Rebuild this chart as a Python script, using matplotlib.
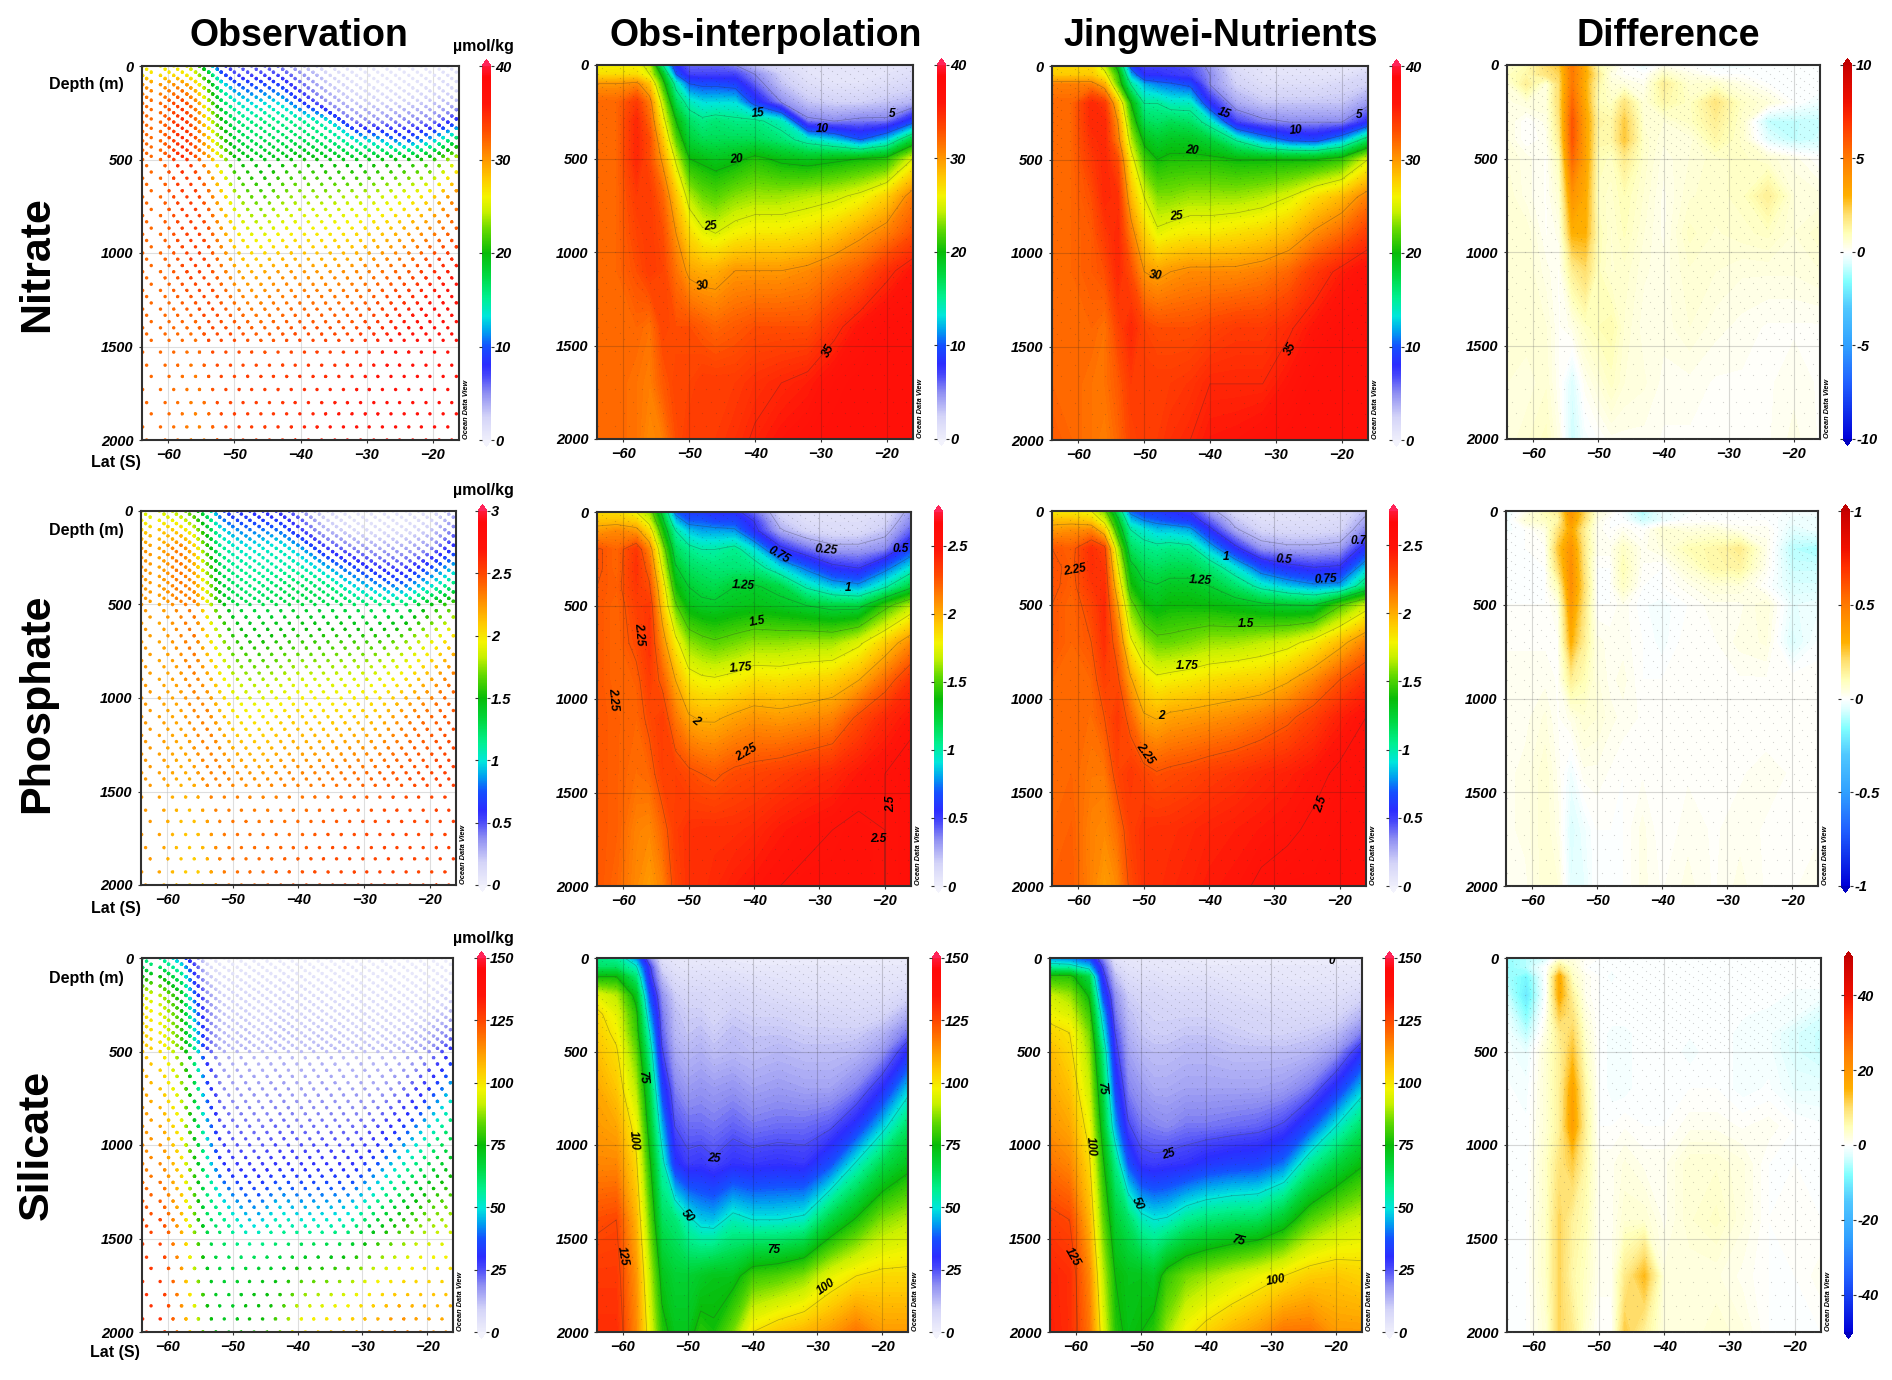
"""
Nutrient sections along a meridional transect: observed dots, interpolated
observations, Jingwei-Nutrients and their difference, as Ocean Data View draws them.
"""

import matplotlib
matplotlib.use("Agg")
import numpy as np
import matplotlib.pyplot as plt
from matplotlib.colorbar import ColorbarBase
from matplotlib.colors import LinearSegmentedColormap, Normalize
from matplotlib.path import Path
from matplotlib.transforms import Affine2D

plt.rcParams["font.family"] = ["Liberation Sans", "DejaVu Sans"]

W, H = 1892, 1380

COLUMN_TITLES = ["Observation", "Obs-interpolation", "Jingwei-Nutrients", "Difference"]
ROW_TITLES = ["Nitrate", "Phosphate", "Silicate"]

# grid the section values were read on
LATS = [-64, -61, -58, -56, -54, -52, -50, -48, -46, -43, -40, -36, -32, -28, -24, -20, -16]
DEPTHS = [0, 50, 100, 200, 300, 400, 500, 700, 900, 1100, 1400, 1700, 2000]

NITRATE_INTERP = [
    [26, 26, 26, 24, 15, 8, 6, 6, 6, 5, 3, 1.5, 1, 1, 1, 1, 1],
    [27, 27, 27, 25, 19, 10, 7, 7, 7, 7, 5, 2.5, 1, 1, 1, 1, 1.5],
    [30, 30, 30.5, 28, 21, 14, 10, 9.5, 9.5, 9, 6, 3, 1.5, 1, 1, 1.5, 2],
    [32, 32, 34, 31, 24, 17, 14, 13, 13, 13, 9, 5, 3, 2.5, 2.5, 3, 3.5],
    [32, 32, 35, 32, 26, 20, 16.5, 15.5, 16, 15.5, 15.5, 14, 5.5, 5, 5.5, 5.5, 9],
    [32, 32, 35, 33, 28, 22, 18, 17, 17, 17, 17, 16, 14, 12.5, 10, 12.5, 18],
    [32, 32, 35, 33, 29.5, 24.5, 20, 19.5, 19, 19.5, 20.5, 19.5, 19, 19.5, 20, 20.5, 25],
    [32, 32, 34, 34, 32, 28, 24, 22.5, 22, 23, 23.5, 23.5, 24, 24.5, 25.5, 27.5, 31],
    [32, 32, 33.5, 34, 33, 30, 27, 25.5, 25, 26, 26.5, 26.5, 27, 28, 29.5, 31, 33],
    [32, 32, 33, 34, 33.5, 31.5, 29.5, 29, 29, 30, 30, 30, 30.5, 31.5, 32.5, 34.5, 36],
    [32, 32, 32, 31.5, 33.5, 33, 33, 32.5, 32, 32.5, 33, 33, 33, 34.5, 36, 37, 37],
    [32, 32, 31.5, 31, 32.5, 33.5, 33.5, 34, 34, 34, 34.5, 35, 35.5, 36.5, 37, 37, 37],
    [32, 32, 31.5, 30.5, 31, 33, 34, 34, 34, 34.5, 35.2, 36, 36.5, 37, 37, 37, 37],
]
NITRATE_JINGWEI = [
    [27, 27, 27, 24, 19, 9, 7, 7, 7, 6.5, 4.5, 1.5, 1, 1, 1, 1, 1],
    [28, 28, 28, 26, 21, 12, 8, 8, 7.5, 7, 5, 2, 1, 1, 1, 1, 2],
    [31, 31, 31, 29, 22, 15, 12, 11, 10.5, 9.5, 5, 2.5, 1.5, 1.5, 1.5, 2, 2.5],
    [32, 32, 35, 34, 28, 20, 15, 15, 14, 14, 8, 4, 3, 3, 3, 3, 4.5],
    [32, 32, 35, 35, 30, 22, 17, 16.5, 17, 16.5, 14, 7, 5.5, 5, 5, 5, 8],
    [32, 32, 34.5, 35, 31, 24, 19.5, 18.5, 19, 19, 18, 15, 12, 10, 9.5, 12, 17],
    [32, 32, 34, 35, 33, 26, 21.5, 20, 20.5, 20.5, 20.5, 20, 20, 20, 20, 21, 25],
    [32, 32, 33, 35, 34.5, 28.5, 25, 23, 23, 23.5, 23.5, 23.5, 24, 25, 27, 28.5, 31],
    [32, 32, 32.5, 34, 35, 31, 27.5, 25.5, 26, 26.5, 26.5, 27, 27.5, 28.5, 30.5, 32, 34],
    [32, 32, 32.5, 33, 35, 33, 30, 29.5, 30, 30.5, 30.5, 30.5, 31, 32, 34, 35.5, 36.5],
    [32, 32, 32, 31.5, 33.5, 35, 33.5, 33, 33, 33, 33.5, 34, 34, 34.8, 36, 37, 37],
    [32, 32, 31.5, 31.5, 32.5, 34, 34, 34, 34, 34.3, 35, 35, 35, 36, 37, 37, 37],
    [32.5, 32, 31.5, 31, 32, 33.5, 34, 34, 34.5, 35, 35.8, 36, 36.5, 37, 37, 37, 37],
]
NITRATE_DIFF = [
    [0.6, 1, 2, 2.5, 5, 3, 1, 0.6, 0, -0.4, 0.2, 0, -0.2, -0.2, -0.1, 0, 0],
    [0.8, 1.2, 1.8, 2.2, 5, 3.2, 1.5, 0.3, 0.1, 0, 0.8, 0.3, 0, 0, 0, 0, 0],
    [0.5, 1.5, 0.5, 2, 5, 3, 1.2, 0.5, 0.4, 0.2, 1.5, 0.6, 0.7, 0.3, 0, 0, 0],
    [0.3, 0.5, 0.5, 2, 5.5, 3.2, 1, 0.8, 1.8, 0.5, 1.2, 0.8, 1.8, 0.8, 0.5, 0, -0.3],
    [0.4, 0, 0.3, 1.8, 6, 3.5, 1.3, 1.2, 2.4, 0.6, 0.5, 0.8, 1.5, 0.7, -0.9, -0.9, -0.8],
    [0.4, 0, 0.2, 1.5, 6, 3.5, 1.2, 1.2, 2.5, 0.7, 0.4, 0.4, 1.2, 0.7, -0.5, -0.9, -0.7],
    [0.5, 0.3, 0.1, 1, 5.5, 3.5, 1, 0.8, 1.6, 0.7, 0.3, 0.5, 0.7, 0.8, 0.6, 0.3, 0],
    [0.6, 0.3, 0.1, 0.6, 4, 3.2, 0.8, 0.7, 1, 0.6, 0.2, 0.6, 0.7, 0.8, 1.5, 0.5, 0.4],
    [0.6, 0.6, 0.1, 0.3, 3, 3, 1, 0.6, 0.9, 0.5, 0.2, 0.8, 0.6, 0.7, 0.8, 0.5, 0.7],
    [0.6, 0.6, 0.3, 0.1, 1.5, 2, 0.9, 0.6, 0.7, 0.4, 0.3, 0.6, 0.5, 0.4, 0.4, 0.4, 0.5],
    [0.6, 0.6, 0.5, 0.1, 0.3, 0.8, 1, 1.1, 0.6, 0.3, 0.3, 0.5, 0.3, 0.2, 0.1, 0.1, 0.1],
    [0.5, 0.4, 0.6, 0.1, -0.6, 0.2, 0.5, 0.8, 0.5, 0.4, 0.2, 0.2, 0.1, 0.1, 0.1, 0.2, 0.1],
    [0.4, 0.6, 0.8, 0.3, -0.8, -0.2, 0, 0.2, 0.2, 0.2, 0.1, 0.1, 0.1, 0.1, 0.1, 0.3, 0.1],
]

PHOSPHATE_INTERP = [
    [1.85, 1.85, 1.75, 1.6, 1.2, 0.7, 0.6, 0.6, 0.55, 0.55, 0.4, 0.15, 0.08, 0.08, 0.08, 0.1, 0.3],
    [1.95, 1.95, 1.9, 1.7, 1.3, 0.85, 0.7, 0.7, 0.65, 0.65, 0.5, 0.2, 0.1, 0.1, 0.1, 0.15, 0.35],
    [2.05, 2.1, 2.05, 1.85, 1.4, 1.0, 0.85, 0.8, 0.8, 0.78, 0.55, 0.27, 0.15, 0.12, 0.12, 0.2, 0.42],
    [2.27, 2.2, 2.35, 2.1, 1.6, 1.15, 1.05, 1.0, 1.0, 1.05, 0.9, 0.55, 0.4, 0.3, 0.3, 0.35, 0.65],
    [2.27, 2.2, 2.37, 2.2, 1.72, 1.27, 1.15, 1.12, 1.1, 1.1, 1.08, 0.9, 0.72, 0.55, 0.5, 0.7, 0.92],
    [2.25, 2.22, 2.35, 2.27, 1.85, 1.38, 1.25, 1.2, 1.18, 1.25, 1.27, 1.2, 0.98, 0.85, 0.8, 0.98, 1.22],
    [2.25, 2.2, 2.32, 2.35, 1.92, 1.52, 1.33, 1.29, 1.28, 1.31, 1.33, 1.3, 1.25, 1.2, 1.2, 1.45, 1.65],
    [2.25, 2.2, 2.28, 2.37, 2.08, 1.8, 1.6, 1.55, 1.52, 1.56, 1.6, 1.6, 1.62, 1.62, 1.72, 1.9, 2.1],
    [2.25, 2.2, 2.22, 2.33, 2.22, 2.0, 1.82, 1.78, 1.77, 1.8, 1.85, 1.84, 1.87, 1.9, 2, 2.18, 2.37],
    [2.25, 2.22, 2.2, 2.28, 2.33, 2.15, 2.02, 1.98, 1.98, 2.03, 2.07, 2.05, 2.08, 2.12, 2.28, 2.4, 2.47],
    [2.25, 2.22, 2.18, 2.2, 2.32, 2.32, 2.28, 2.25, 2.23, 2.28, 2.3, 2.33, 2.37, 2.4, 2.46, 2.5, 2.55],
    [2.25, 2.22, 2.12, 2.1, 2.2, 2.33, 2.37, 2.38, 2.38, 2.38, 2.4, 2.45, 2.48, 2.5, 2.52, 2.5, 2.55],
    [2.25, 2.2, 2.1, 2.05, 2.12, 2.3, 2.37, 2.38, 2.4, 2.44, 2.47, 2.5, 2.52, 2.52, 2.52, 2.5, 2.55],
]
PHOSPHATE_JINGWEI = [
    [1.8, 1.8, 1.75, 1.55, 1.15, 0.7, 0.6, 0.6, 0.55, 0.5, 0.3, 0.12, 0.08, 0.08, 0.08, 0.1, 0.22],
    [1.95, 1.95, 1.9, 1.7, 1.3, 0.85, 0.75, 0.7, 0.65, 0.6, 0.42, 0.2, 0.1, 0.1, 0.1, 0.12, 0.28],
    [2.05, 2.08, 2.1, 1.9, 1.4, 1.0, 0.92, 0.85, 0.85, 0.8, 0.55, 0.27, 0.15, 0.13, 0.13, 0.15, 0.35],
    [2.25, 2.22, 2.38, 2.3, 1.65, 1.15, 1.07, 1.05, 1.07, 1.05, 0.85, 0.55, 0.32, 0.28, 0.28, 0.3, 0.58],
    [2.27, 2.23, 2.38, 2.35, 1.78, 1.3, 1.18, 1.15, 1.18, 1.18, 1.1, 0.9, 0.65, 0.55, 0.5, 0.52, 0.85],
    [2.27, 2.22, 2.35, 2.38, 1.9, 1.4, 1.28, 1.26, 1.3, 1.3, 1.25, 1.12, 0.95, 0.85, 0.78, 0.8, 1.12],
    [2.25, 2.2, 2.3, 2.4, 2.02, 1.55, 1.38, 1.33, 1.37, 1.37, 1.36, 1.33, 1.28, 1.25, 1.24, 1.48, 1.68],
    [2.25, 2.2, 2.25, 2.38, 2.18, 1.78, 1.62, 1.54, 1.54, 1.57, 1.61, 1.62, 1.66, 1.7, 1.8, 1.95, 2.12],
    [2.2, 2.2, 2.2, 2.32, 2.28, 2.02, 1.85, 1.78, 1.8, 1.82, 1.85, 1.88, 1.9, 1.98, 2.1, 2.25, 2.37],
    [2.2, 2.2, 2.18, 2.25, 2.35, 2.2, 2.02, 1.99, 2.03, 2.05, 2.07, 2.1, 2.15, 2.22, 2.32, 2.43, 2.5],
    [2.2, 2.2, 2.15, 2.15, 2.3, 2.35, 2.3, 2.26, 2.28, 2.3, 2.33, 2.36, 2.4, 2.43, 2.47, 2.52, 2.55],
    [2.2, 2.22, 2.12, 2.1, 2.18, 2.32, 2.37, 2.38, 2.38, 2.4, 2.42, 2.44, 2.46, 2.48, 2.52, 2.55, 2.55],
    [2.22, 2.23, 2.12, 2.05, 2.1, 2.28, 2.37, 2.38, 2.4, 2.42, 2.45, 2.47, 2.52, 2.55, 2.55, 2.55, 2.55],
]
PHOSPHATE_DIFF = [
    [-0.04, 0.02, 0.1, 0.15, 0.4, 0.22, 0.05, 0.02, -0.02, -0.12, -0.03, -0.02, 0, 0, 0, -0.02, -0.02],
    [-0.03, 0.05, 0.08, 0.12, 0.38, 0.2, 0.03, 0, -0.01, -0.08, -0.04, 0, 0, 0, 0, -0.03, -0.03],
    [-0.02, 0, 0.03, 0.18, 0.33, 0.15, 0.02, 0, 0.02, 0, 0.06, 0.04, 0.05, 0.02, 0.02, -0.05, -0.03],
    [0, 0, 0.01, 0.25, 0.4, 0.17, 0.02, 0.02, 0.08, 0.02, 0.04, 0.1, 0.12, 0.16, 0.03, -0.1, -0.12],
    [0, 0, 0, 0.2, 0.42, 0.18, 0, 0, 0.1, 0.01, 0, 0.06, 0.12, 0.13, 0.02, -0.08, -0.08],
    [0, 0, 0, 0.1, 0.42, 0.2, 0, 0, 0.08, 0, 0, 0.02, 0.05, 0.05, 0, -0.06, -0.06],
    [0, 0, 0, 0.03, 0.38, 0.18, 0, 0, 0.02, -0.01, -0.02, 0, 0.02, 0.02, 0.05, -0.04, -0.03],
    [0.01, 0.01, 0.01, 0.01, 0.3, 0.15, 0.03, 0.02, 0.02, 0, -0.02, 0.01, 0.01, 0.03, 0.04, -0.06, -0.01],
    [0.02, 0.02, 0.02, 0.01, 0.15, 0.1, 0.04, 0.02, 0.03, 0, 0, 0.01, 0.01, 0.01, 0.01, 0.01, 0.01],
    [0.02, 0.02, 0.04, 0.01, 0.03, 0.06, 0.05, 0.03, 0.02, 0.01, 0.01, 0.01, 0.01, 0.01, 0, 0.01, 0.01],
    [0.02, 0.03, 0.06, 0.02, -0.03, 0.02, 0.02, 0.01, 0, 0.01, 0, 0.01, 0.01, 0.01, 0.02, 0.01, 0.01],
    [0.02, 0.03, 0.06, 0.03, -0.06, -0.03, 0, 0, 0, 0.03, 0, 0.02, 0.01, 0.02, 0.01, 0.01, 0.01],
    [0.01, 0.02, 0.06, 0.05, -0.05, -0.04, 0, 0, 0, 0.03, 0.01, 0.03, 0.01, 0.03, 0.01, 0.01, 0.02],
]

SILICATE_INTERP = [
    [58, 56, 42, 20, 5, 2.5, 2, 2, 2, 1.5, 1.5, 1.5, 1.5, 1.5, 1.5, 1.5, 1.5],
    [62, 62, 52, 28, 8, 4, 3, 3, 3, 2.5, 2, 2, 2, 2, 2, 2, 2],
    [75, 75, 60, 30, 12, 6, 5, 5, 5, 5, 4, 3.5, 3, 3, 2.5, 3, 3],
    [95, 90, 72, 38, 18, 10, 8, 8, 7, 8, 7, 6, 5, 5, 5, 5, 8],
    [102, 95, 78, 45, 21, 12, 10, 10, 8, 10, 9, 9, 8, 7.5, 7, 8, 14],
    [104, 98, 80, 52, 23, 13, 11, 12, 10, 12, 11, 11, 10, 10, 10, 13, 21],
    [106, 101, 84, 58, 26, 15, 13, 14, 12, 13, 12, 13, 12, 12, 13, 17, 30],
    [110, 105, 90, 67, 35, 20, 17, 18, 17, 18, 16, 17, 16, 16, 20, 30, 47],
    [112, 110, 97, 72, 45, 25, 22, 22, 21, 23, 21, 22, 22, 24, 32, 47, 62],
    [115, 115, 102, 78, 54, 32, 27, 28, 26, 29, 28, 29, 28, 36, 51, 64, 72],
    [124, 125, 108, 85, 63, 60, 52, 47, 46, 53, 50, 50, 52, 66, 76, 86, 90],
    [128, 128, 113, 92, 72, 68, 68, 70, 72, 72, 80, 82, 86, 95, 100, 102, 102],
    [130, 130, 115, 97, 78, 72, 72, 78, 76, 85, 100, 105, 108, 112, 118, 112, 112],
]
SILICATE_JINGWEI = [
    [42, 40, 35, 20, 4, 2.5, 2, 2, 1.8, 1.5, 1.5, 1.5, 1.5, 1.5, 1.5, 1.5, 1.5],
    [56, 55, 47, 26, 8, 4, 3, 3, 2.5, 2.5, 2, 2, 2, 2, 2, 2, 2],
    [78, 78, 65, 30, 12, 6, 5, 5, 4, 4, 4, 3, 3, 2.5, 2.5, 3, 3],
    [92, 88, 74, 38, 18, 10, 8, 8, 7, 7, 7, 6, 5, 5, 5, 5, 8],
    [97, 94, 80, 47, 21, 12, 10, 9, 9, 9, 9, 8, 8, 7, 7, 8, 13],
    [103, 100, 85, 53, 25, 14, 11, 10, 10, 11, 11, 10, 9, 9, 10, 12, 20],
    [107, 102, 88, 60, 28, 16, 13, 12, 12, 13, 13, 12, 12, 12, 13, 17, 30],
    [110, 106, 92, 67, 35, 20, 17, 15, 15, 16, 16, 16, 16, 17, 21, 32, 47],
    [113, 110, 97, 72, 44, 26, 21, 20, 19, 21, 21, 22, 23, 26, 36, 50, 62],
    [118, 115, 102, 78, 58, 37, 28, 27, 28, 29, 32, 34, 35, 40, 56, 66, 74],
    [127, 125, 108, 85, 68, 62, 53, 50, 51, 57, 60, 62, 63, 70, 82, 88, 92],
    [132, 130, 115, 92, 75, 72, 72, 70, 79, 85, 88, 92, 96, 100, 104, 105, 103],
    [133, 130, 118, 97, 78, 73, 75, 78, 88, 98, 103, 108, 112, 118, 118, 112, 112],
]
SILICATE_DIFF = [
    [-7, -5, -3, 2, 2, 0.5, 0, 0, 0, 0, 0, 0, 0, 0, 0, 0, 0],
    [-7, -5, 0, 8, 3, 0, 0, -0.5, -0.5, 0, 0, 0, 0, 0, 0, 0, 0],
    [-6, -9, 0, 16, 4, 1, 0, -1, 0, 0, 0, 0, 0, 0, 0, 0, 0],
    [-4, -11, 0, 16, 7, 1, 0, 0, 0, 0, 0, 0, 0, 0, 0, -1, -1],
    [-2, -8, 1, 12, 9, 2, 0, 0, 0, 0, 0, 0, 0, -0.5, -1, -1, -3],
    [-1, -5, 2, 8, 11, 3, 0, -1, -1, 0, 0, -0.5, 0, -1, -1, -3, -4],
    [-1, -2, 3, 7, 13, 4, 0, -1, -1, 0, 0, -1, 0, -1, -1, -3, -4],
    [-0.5, -1, 3, 7, 17, 6, 0, -1, -1, 0, 0, 0, 0, -1, -0.5, -2, -2],
    [-0.5, -0.5, 3, 7, 18, 7, 0, 0, 0.5, 0, 0, 1, 1, 0.5, 1, 0, -0.5],
    [-0.5, -0.5, 4, 9, 12, 6, 1, 1, 2, 1, 1, 3, 3, 2, 0, 0, 0],
    [0, 0, 4, 11, 7, 5, 1, 1, 3, 3, 1, 3, 4, 2, 0, 0.5, 0],
    [0, 0, 4, 11, 6, 4, 1, 1, 8, 14, 2, 2, 2, 1, 0, 0, 1],
    [0, 0, 3, 11, 8, 3, 0, 0, 12, 7, 2, 2, 3, 2, 0, 0, 0],
]

# sampled stations, and the depth levels each third of them reports
STATION_LATS = [
    -63.9, -63.3, -62.6, -61.2, -60.5, -59.9, -59.2, -58.6, -57.9, -57.2, -56.6, -55.9,
    -55.3, -54.6, -53.9, -53.3, -52.6, -52.0, -51.3, -50.6, -50.0, -49.3, -48.7, -48.0,
    -47.4, -46.7, -46.0, -45.4, -44.7, -44.1, -43.4, -42.7, -42.1, -41.4, -40.8, -40.1,
    -39.4, -38.8, -38.1, -37.5, -36.8, -36.2, -35.5, -34.8, -34.2, -33.5, -32.9, -32.2,
    -31.5, -30.9, -30.2, -29.6, -28.9, -28.3, -27.6, -26.9, -26.3, -25.6, -25.0, -24.3,
    -23.6, -23.0, -22.3, -21.7, -21.0, -20.4, -19.7, -19.0, -18.4, -17.7, -17.1, -16.4,
]
STATION_LEVELS = [
    [0, 50, 100, 150, 200, 250, 300, 350, 400, 450, 500, 600, 700, 800, 900, 1000, 1100, 1200,
     1300, 1400, 1530, 1730, 1930],
    [17, 67, 117, 167, 217, 267, 317, 367, 417, 467, 533, 633, 733, 833, 933, 1033, 1133, 1233,
     1333, 1433, 1600, 1800, 2000],
    [33, 83, 133, 183, 233, 283, 333, 383, 433, 483, 567, 667, 767, 867, 967, 1067, 1167, 1267,
     1367, 1467, 1660, 1860],
]

# scales, one row of panels each
OBS_RANGES = [(0, 40), (0, 3), (0, 150)]
INTERP_RANGES = [(0, 40), (0, 2.75), (0, 150)]
DIFF_RANGES = [(-10, 10), (-1, 1), (-50, 50)]
OBS_TICKS = [[0, 10, 20, 30, 40], [0, 0.5, 1, 1.5, 2, 2.5, 3], [0, 25, 50, 75, 100, 125, 150]]
INTERP_TICKS = [[0, 10, 20, 30, 40], [0, 0.5, 1, 1.5, 2, 2.5], [0, 25, 50, 75, 100, 125, 150]]
DIFF_TICKS = [[-10, -5, 0, 5, 10], [-1, -0.5, 0, 0.5, 1], [-40, -20, 0, 20, 40]]
CONTOUR_LEVELS = [
    [5, 10, 15, 20, 25, 30, 35],
    [0.25, 0.5, 0.75, 1, 1.25, 1.5, 1.75, 2, 2.25, 2.5],
    [25, 50, 75, 100, 125],
]

# (text, lat, depth, rotation)
CONTOUR_LABELS = {
    (0, 1): [("15", -39.5, 257, 5), ("10", -29.7, 342, 0), ("5", -19.2, 262, 0), ("20", -42.8, 506, 5),
             ("25", -46.7, 866, 5), ("30", -47.9, 1180, 10), ("35", -28.9, 1531, 60)],
    (0, 2): [("15", -37.9, 251, -20), ("10", -26.9, 346, 5), ("5", -17.4, 264, 0), ("20", -42.8, 451, -5),
             ("25", -45.1, 802, 5), ("30", -48.2, 1121, -5), ("35", -27.7, 1512, 60)],
    (1, 1): [("0.75", -36.2, 228, -30), ("0.25", -29, 205, -5), ("0.5", -17.6, 196, 0), ("1", -25.6, 406, 0),
             ("1.25", -41.7, 394, -3), ("1.5", -39.5, 588, 10), ("1.75", -42, 832, 5), ("2", -48.9, 1114, -40),
             ("2.25", -57.6, 654, -85), ("2.25", -61.5, 998, -85), ("2.25", -41.1, 1287, 30),
             ("2.5", -19, 1561, 90), ("2.5", -21, 1747, 0)],
    (1, 2): [("1", -37.4, 244, 0), ("0.5", -28.6, 260, -5), ("0.75", -22.1, 367, 3), ("0.75", -16.6, 160, 0),
             ("1.25", -41.3, 369, -3), ("1.5", -34.3, 604, 0), ("1.75", -43.4, 827, 0), ("2", -47.2, 1093, 0),
             ("2.25", -60.5, 317, 10), ("2.25", -49.7, 1292, -55), ("2.5", -22.8, 1563, 70)],
    (2, 1): [("75", -56.9, 638, -85), ("100", -58.4, 975, -85), ("125", -60, 1592, -80), ("25", -45.9, 1075, -5),
             ("50", -50, 1381, -50), ("75", -36.7, 1563, 0), ("100", -28.6, 1759, 35)],
    (2, 2): [("75", -56.1, 699, -85), ("100", -57.7, 1007, -85), ("125", -60.6, 1599, -60), ("25", -45.7, 1053, 15),
             ("50", -50.5, 1316, -65), ("75", -35.1, 1511, -15), ("100", -29.2, 1725, 10), ("0", -20.7, 16, 0)],
}

# pixel boxes of the panels: left, right, top, bottom
PANEL_BOXES = [
    [(142, 459, 66, 440), (597, 913, 65, 439), (1052, 1368, 66, 440), (1507, 1820, 65, 439)],
    [(141, 456, 511, 885), (597, 911, 512, 886), (1052, 1366, 511, 886), (1506, 1818, 511, 886)],
    [(142, 453, 958, 1332), (597, 908, 958, 1332), (1050, 1362, 958, 1332), (1507, 1821, 958, 1332)],
]
# colorbar left edge in pixels, same rows and columns
CBAR_LEFT = [[482, 937, 1392, 1843], [478, 934, 1389, 1841], [477, 932, 1385, 1844]]
COLUMN_X = [299, 766, 1221, 1668]
ROW_Y = [264, 703, 1145]

LAT_TICKS = [-60, -50, -40, -30, -20]
DEPTH_TICKS = [0, 500, 1000, 1500, 2000]

EXTEND_FRAC = 0.017

ODV_CMAP = LinearSegmentedColormap.from_list("odv", [
    (0.0, "#eeeefb"), (0.06, "#d4d4f8"), (0.125, "#8e8ef2"), (0.17, "#4848fa"), (0.2, "#2c2cff"),
    (0.25, "#1450ff"), (0.29, "#00a0f0"), (0.33, "#00e6dc"), (0.38, "#00f090"), (0.44, "#00d840"),
    (0.5, "#08bc08"), (0.56, "#60d800"), (0.61, "#c8f000"), (0.65, "#f4f400"), (0.7, "#ffc800"),
    (0.75, "#ff9800"), (0.83, "#ff4a00"), (0.9, "#ff1408"), (0.97, "#ff0808"), (1.0, "#ff1838"),
], N=512)
ODV_CMAP.set_under("#f2f2fc")
ODV_CMAP.set_over("#ff2458")

DIFF_CMAP = LinearSegmentedColormap.from_list("odv_diff", [
    (0.0, "#0000d8"), (0.15, "#2060ff"), (0.25, "#30a0ff"), (0.35, "#50c8ff"), (0.42, "#80ffff"),
    (0.47, "#dcffff"), (0.5, "#ffffff"), (0.515, "#ffffe8"), (0.55, "#ffffb8"), (0.6, "#ffe070"),
    (0.65, "#ffb000"), (0.75, "#ff7a00"), (0.85, "#ff3000"), (0.9, "#f01000"), (1.0, "#c80000"),
], N=512)
DIFF_CMAP.set_under("#0000c0")
DIFF_CMAP.set_over("#c00000")


def panel_axes(fig, box):
    left, right, top, bottom = box
    ax = fig.add_axes([left / W, 1 - bottom / H, (right - left) / W, (bottom - top) / H])
    ax.set_xlim(-64, -16)
    ax.set_ylim(2000, 0)
    ax.set_xticks(LAT_TICKS)
    ax.set_yticks(DEPTH_TICKS)
    ax.tick_params(length=2, width=0.8, pad=4, labelsize=10.5, color="#333333")
    for label in ax.get_xticklabels() + ax.get_yticklabels():
        label.set_fontweight("bold")
        label.set_fontstyle("italic")
    for spine in ax.spines.values():
        spine.set_linewidth(1.5)
        spine.set_color("#303030")
    return ax


def station_points():
    lats, depths = [], []
    for i, lat in enumerate(STATION_LATS):
        for depth in STATION_LEVELS[i % 3]:
            lats.append(lat)
            depths.append(depth)
    return lats, depths


def dot_mask(box):
    # dots of about 1.7 px radius, in data units of this panel
    left, right, top, bottom = box
    rx = 1.7 * 48 / (right - left)
    ry = 1.7 * 2000 / (bottom - top)
    circle = Path.unit_circle()
    lats, depths = station_points()
    return Path.make_compound_path(*[
        circle.transformed(Affine2D().scale(rx, ry).translate(x, y)) for x, y in zip(lats, depths)
    ])


def draw_field(ax, values, value_range, cmap):
    levels = np.linspace(value_range[0], value_range[1], 161)
    return ax.contourf(LATS, DEPTHS, values, levels=levels, cmap=cmap, extend="both",
                       antialiased=False, zorder=1)


def draw_grid(ax, color, alpha, zorder):
    for lat in LAT_TICKS:
        ax.axvline(lat, color=color, lw=0.8, alpha=alpha, zorder=zorder)
    for depth in DEPTH_TICKS[1:-1]:
        ax.axhline(depth, color=color, lw=0.8, alpha=alpha, zorder=zorder)


def draw_colorbar(fig, left, box, cmap, value_range, ticks):
    # the colorbar shrinks its axes to fit the end caps, so hand it the larger box
    _, _, top, bottom = box
    span = bottom - top
    cax = fig.add_axes([left / W, 1 - (bottom + EXTEND_FRAC * span) / H,
                        9 / W, span * (1 + 2 * EXTEND_FRAC) / H])
    cb = ColorbarBase(cax, cmap=cmap, norm=Normalize(*value_range), extend="both",
                      extendfrac=EXTEND_FRAC, ticks=ticks)
    cb.outline.set_visible(False)
    cax.tick_params(left=True, right=True, length=2, width=0.8, pad=1, labelsize=10.5, color="#333333")
    cax.set_yticklabels([f"{t:g}" for t in ticks], fontweight="bold", fontstyle="italic")


def odv_tag(fig, box):
    _, right, _, bottom = box
    fig.text((right + 7.5) / W, 1 - (bottom - 1) / H, "Ocean Data View", rotation=90, fontsize=5.3,
             fontweight="bold", fontstyle="italic", ha="center", va="bottom")


def main():
    fig = plt.figure(figsize=(W / 100, H / 100), dpi=100, facecolor="white")

    tables = [
        (NITRATE_INTERP, NITRATE_JINGWEI, NITRATE_DIFF),
        (PHOSPHATE_INTERP, PHOSPHATE_JINGWEI, PHOSPHATE_DIFF),
        (SILICATE_INTERP, SILICATE_JINGWEI, SILICATE_DIFF),
    ]
    station_lat, station_depth = station_points()

    for row, (interp, jingwei, diff) in enumerate(tables):
        # observation dots: the section seen only through the station positions
        box = PANEL_BOXES[row][0]
        ax = panel_axes(fig, box)
        draw_grid(ax, "#c8c8c8", 0.6, 0.5)
        field = draw_field(ax, interp, OBS_RANGES[row], ODV_CMAP)
        field.set_clip_path(dot_mask(box), ax.transData)
        draw_colorbar(fig, CBAR_LEFT[row][0], box, ODV_CMAP, OBS_RANGES[row], OBS_TICKS[row])
        odv_tag(fig, box)

        # the two interpolated sections
        for col, values in ((1, interp), (2, jingwei)):
            box = PANEL_BOXES[row][col]
            ax = panel_axes(fig, box)
            draw_field(ax, values, INTERP_RANGES[row], ODV_CMAP)
            draw_grid(ax, "#202020", 0.2, 2)
            ax.contour(LATS, DEPTHS, values, levels=CONTOUR_LEVELS[row], colors="#303030",
                       linewidths=0.5, alpha=0.35, zorder=3)
            ax.scatter(station_lat, station_depth, s=0.8, c="#303030", alpha=0.22, linewidths=0, zorder=3)
            for text, lat, depth, angle in CONTOUR_LABELS[(row, col)]:
                ax.text(lat, depth, text, rotation=angle, fontsize=8.5, fontweight="bold", fontstyle="italic",
                        ha="center", va="center", zorder=4, clip_on=True)
            draw_colorbar(fig, CBAR_LEFT[row][col], box, ODV_CMAP, INTERP_RANGES[row], INTERP_TICKS[row])
            odv_tag(fig, box)

        # difference
        box = PANEL_BOXES[row][3]
        ax = panel_axes(fig, box)
        draw_field(ax, diff, DIFF_RANGES[row], DIFF_CMAP)
        draw_grid(ax, "#707070", 0.28, 2)
        ax.scatter(station_lat, station_depth, s=0.8, c="#505050", alpha=0.25, linewidths=0, zorder=3)
        draw_colorbar(fig, CBAR_LEFT[row][3], box, DIFF_CMAP, DIFF_RANGES[row], DIFF_TICKS[row])
        odv_tag(fig, box)

    for title, x in zip(COLUMN_TITLES, COLUMN_X):
        fig.text(x / W, 1 - 36 / H, title, fontsize=27, fontweight="bold", ha="center", va="center")
    for title, y in zip(ROW_TITLES, ROW_Y):
        fig.text(37 / W, 1 - y / H, title, fontsize=31, fontweight="bold", rotation=90, ha="center", va="center")

    for x, y in ((483, 46), (483, 491), (483, 938)):
        fig.text(x / W, 1 - y / H, "µmol/kg", fontsize=11.5, fontweight="bold", ha="center", va="center")
    for y in (85, 531, 978):
        fig.text(124 / W, 1 - y / H, "Depth (m)", fontsize=11.5, fontweight="bold", ha="right", va="center")
    for x, y in ((116, 462), (116, 908), (115, 1352)):
        fig.text(x / W, 1 - y / H, "Lat (S)", fontsize=11.5, fontweight="bold", ha="center", va="center")

    fig.savefig("out.png", dpi=100, facecolor="white")


if __name__ == "__main__":
    main()
